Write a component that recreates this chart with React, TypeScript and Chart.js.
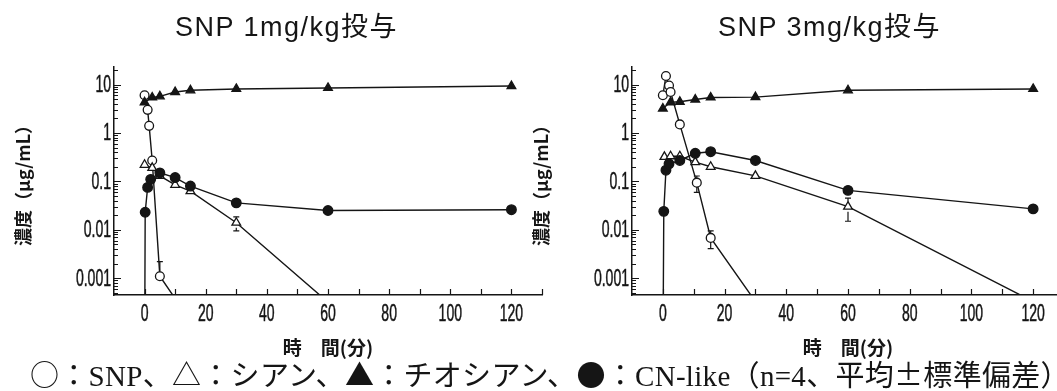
import React, { useEffect, useRef } from "react";
import { Chart, registerables } from "chart.js";

Chart.register(...registerables);

// ---------- data ----------
const X_LABELS = [0, 20, 40, 60, 80, 100, 120];
const Y_MAJOR = [0.001, 0.01, 0.1, 1, 10];
const Y_LABELS = ["0.001", "0.01", "0.1", "1", "10"];

// SNP 1 mg/kg
const L_SNP_T = [0, 1, 1.5, 2.5, 5, 10];
const L_SNP_V = [6.0, 3.0, 1.4, 0.27, 0.0011, 0.00038];
const L_SNP_E = [0, 0, 0, 0, 0.0011, 0];

const L_CYN_T = [0, 2.5, 5, 10, 15, 30, 60];
const L_CYN_V = [0.22, 0.19, 0.13, 0.085, 0.063, 0.014, 0.00032];
const L_CYN_E = [0, 0, 0, 0, 0, 0.0045, 0];

const L_THIO_T = [0, 2.5, 5, 10, 15, 30, 60, 120];
const L_THIO_V = [4.3, 5.4, 5.7, 7.0, 7.6, 8.1, 8.5, 9.3];

const L_CN_T = [0, 0.2, 1, 2, 5, 10, 15, 30, 60, 120];
const L_CN_V = [0.00001, 0.023, 0.075, 0.11, 0.15, 0.12, 0.08, 0.036, 0.025, 0.026];

// SNP 3 mg/kg
const R_SNP_T = [0, 1, 2, 2.5, 5.5, 11, 15.5, 30];
const R_SNP_V = [6.0, 15, 9.5, 7.0, 1.5, 0.094, 0.0068, 0.00033];
const R_SNP_E = [0, 0, 0, 0, 0, 0.035, 0.0027, 0];

const R_CYN_T = [0.5, 2.5, 5.5, 10.5, 15.5, 30, 60, 120];
const R_CYN_V = [0.32, 0.33, 0.33, 0.25, 0.2, 0.13, 0.03, 0.00033];
const R_CYN_E = [0, 0, 0, 0, 0, 0, 0.015, 0];

const R_THIO_T = [0, 2.5, 5.5, 10.5, 15.5, 30, 60, 120];
const R_THIO_V = [3.2, 4.3, 4.4, 4.9, 5.4, 5.5, 7.6, 8.1];

const R_CN_T = [0, 0.3, 1, 2, 5.5, 10.5, 15.5, 30, 60, 120];
const R_CN_V = [0.00001, 0.024, 0.17, 0.23, 0.27, 0.38, 0.41, 0.27, 0.065, 0.027];

const TITLE_L = "SNP 1mg/kg投与";
const TITLE_R = "SNP 3mg/kg投与";
const X_TITLE = "時　間(分)";
const Y_TITLE = "濃度（μg/mL）";
const CAPTION = "○：SNP、△：シアン、▲：チオシアン、●：CN-like（n=4、平均±標準偏差）";

// ---------- helpers ----------
const Y_MIN = 0.00045;
const Y_MAX = 23;
const INK = "#151515";
const LABEL_FONT = '23px "Liberation Sans", Arial, sans-serif';
const LABEL_SX = 0.61;

type Series = { t: number[]; v: number[]; e?: number[]; kind: "oc" | "fc" | "ot" | "ft" };

function toPts(t: number[], v: number[]) {
  return t.map((x, i) => ({ x, y: v[i] }));
}

function makeDataset(s: Series) {
  const circle = s.kind === "oc" || s.kind === "fc";
  const filled = s.kind === "fc" || s.kind === "ft";
  const r = s.kind === "fc" ? 4.8 : circle ? 4.4 : 5;
  return {
    data: toPts(s.t, s.v),
    errors: s.e,
    markerR: r,
    borderColor: INK,
    borderWidth: 1.4,
    backgroundColor: filled ? INK : "#ffffff",
    pointBackgroundColor: filled ? INK : "#ffffff",
    pointBorderColor: INK,
    pointBorderWidth: 1.3,
    pointStyle: circle ? "circle" : "triangle",
    pointRadius: (ctx: any) => (ctx.raw && ctx.raw.y < Y_MIN ? 0 : r),
    pointHoverRadius: r,
    tension: 0,
    fill: false,
  };
}

const tickMarks = {
  id: "tickMarks",
  afterDraw(chart: any) {
    const { ctx, chartArea, scales } = chart;
    const y = scales.y;
    const x = scales.x;
    ctx.save();
    ctx.strokeStyle = INK;
    ctx.lineWidth = 1.2;
    ctx.beginPath();
    y.ticks.forEach((tk: any) => {
      const py = Math.round(y.getPixelForValue(tk.value)) + 0.5;
      const len = tk.major ? 7 : 4;
      ctx.moveTo(chartArea.left, py);
      ctx.lineTo(chartArea.left + len, py);
    });
    x.ticks.forEach((tk: any) => {
      if (tk.value < 0) return;
      const px = Math.round(x.getPixelForValue(tk.value)) + 0.5;
      ctx.moveTo(px, chartArea.bottom);
      ctx.lineTo(px, chartArea.bottom - 6);
    });
    ctx.stroke();

    // condensed tick labels
    ctx.fillStyle = INK;
    ctx.strokeStyle = INK;
    ctx.lineWidth = 0.5;
    ctx.font = LABEL_FONT;
    ctx.textAlign = "right";
    ctx.textBaseline = "middle";
    Y_MAJOR.forEach((v, i) => {
      const py = y.getPixelForValue(v);
      ctx.save();
      ctx.translate(chartArea.left - 3, py + 1);
      ctx.scale(LABEL_SX, 1);
      ctx.fillText(Y_LABELS[i], 0, 0);
      ctx.strokeText(Y_LABELS[i], 0, 0);
      ctx.restore();
    });
    ctx.textAlign = "center";
    ctx.textBaseline = "alphabetic";
    X_LABELS.forEach((v) => {
      const px = x.getPixelForValue(v);
      ctx.save();
      ctx.translate(px, chartArea.bottom + 26);
      ctx.scale(LABEL_SX, 1);
      ctx.fillText(String(v), 0, 0);
      ctx.strokeText(String(v), 0, 0);
      ctx.restore();
    });
    ctx.restore();
  },
};

const errorBars = {
  id: "errorBars",
  afterDatasetsDraw(chart: any) {
    const { ctx, chartArea, scales } = chart;
    const x = scales.x;
    const y = scales.y;
    ctx.save();
    ctx.beginPath();
    ctx.rect(chartArea.left, chartArea.top, chartArea.right - chartArea.left, chartArea.bottom - chartArea.top);
    ctx.clip();
    ctx.strokeStyle = INK;
    ctx.lineWidth = 1.2;
    chart.data.datasets.forEach((ds: any) => {
      const errs: number[] | undefined = ds.errors;
      if (!errs) return;
      const r = ds.markerR || 4;
      ds.data.forEach((p: any, i: number) => {
        const e = errs[i];
        if (!e) return;
        const px = x.getPixelForValue(p.x);
        const py = y.getPixelForValue(p.y);
        const top = y.getPixelForValue(p.y + e);
        ctx.beginPath();
        if (top < py - r) {
          ctx.moveTo(px, py - r);
          ctx.lineTo(px, top);
          ctx.moveTo(px - 3, top);
          ctx.lineTo(px + 3, top);
        }
        const lowV = p.y - e;
        if (lowV > 0) {
          const bot = y.getPixelForValue(lowV);
          if (bot > py + r) {
            ctx.moveTo(px, py + r);
            ctx.lineTo(px, bot);
            ctx.moveTo(px - 3, bot);
            ctx.lineTo(px + 3, bot);
          }
        }
        ctx.stroke();
      });
    });
    ctx.restore();
  },
};

function PanelChart({ series, width, height }: { series: Series[]; width: number; height: number }) {
  const ref = useRef<HTMLCanvasElement | null>(null);
  useEffect(() => {
    if (!ref.current) return;
    const chart = new Chart(ref.current, {
      type: "line",
      data: { datasets: series.map(makeDataset) as any },
      plugins: [tickMarks, errorBars],
      options: {
        animation: false,
        responsive: false,
        maintainAspectRatio: false,
        layout: { padding: { left: 4, top: 67, right: 30, bottom: 0 } },
        plugins: { legend: { display: false }, tooltip: { enabled: false }, title: { display: false } },
        scales: {
          x: {
            type: "linear",
            min: -10,
            max: 130,
            grid: { display: true, color: "rgba(0,0,0,0)", drawTicks: false },
            border: { display: true, color: INK, width: 1.5 },
            ticks: { stepSize: 10, display: false, autoSkip: false },
            title: {
              display: true,
              text: X_TITLE,
              color: INK,
              font: { family: '"Noto Sans CJK JP", sans-serif', size: 19, weight: "bold" },
              padding: { top: 4, bottom: 3 },
            },
            afterFit: (s: any) => {
              s.height = height - 295;
            },
          },
          y: {
            type: "logarithmic",
            min: Y_MIN,
            max: Y_MAX,
            grid: { display: true, color: "rgba(0,0,0,0)", drawTicks: false },
            border: { display: true, color: INK, width: 1.5 },
            afterBuildTicks: (s: any) => {
              const out: any[] = [];
              for (let e = -4; e <= 1; e++) {
                for (let m = 1; m <= 9; m++) {
                  const v = Number((m * Math.pow(10, e)).toPrecision(4));
                  if (v >= Y_MIN && v <= Y_MAX) out.push({ value: v, major: m === 1 });
                }
              }
              s.ticks = out;
            },
            ticks: { display: false, autoSkip: false },
            title: {
              display: true,
              text: Y_TITLE,
              color: INK,
              font: { family: '"Noto Sans CJK JP", sans-serif', size: 18, weight: "bold" },
              padding: { top: 8, bottom: 4 },
            },
            afterFit: (s: any) => {
              s.width = 110;
            },
          },
        },
      } as any,
    });
    return () => chart.destroy();
  }, []);
  return <canvas ref={ref} width={width} height={height} style={{ width, height, display: "block" }} />;
}

const LEFT: Series[] = [
  { t: L_THIO_T, v: L_THIO_V, kind: "ft" },
  { t: L_CN_T, v: L_CN_V, kind: "fc" },
  { t: L_CYN_T, v: L_CYN_V, e: L_CYN_E, kind: "ot" },
  { t: L_SNP_T, v: L_SNP_V, e: L_SNP_E, kind: "oc" },
];

const RIGHT: Series[] = [
  { t: R_THIO_T, v: R_THIO_V, kind: "ft" },
  { t: R_CN_T, v: R_CN_V, kind: "fc" },
  { t: R_CYN_T, v: R_CYN_V, e: R_CYN_E, kind: "ot" },
  { t: R_SNP_T, v: R_SNP_V, e: R_SNP_E, kind: "oc" },
];

const titleStyle: React.CSSProperties = {
  position: "absolute",
  top: 12,
  font: '27px "Liberation Sans", Arial, "Noto Sans CJK JP", sans-serif',
  letterSpacing: "1.5px",
  color: INK,
  whiteSpace: "nowrap",
  lineHeight: "30px",
};

function Caption({ text }: { text: string }) {
  const parts = text.split(/([A-Za-z0-9=\-]+)/);
  return (
    <div
      style={{
        position: "absolute",
        left: 30,
        top: 356,
        font: '29px "Noto Sans CJK JP", sans-serif',
        letterSpacing: "0.3px",
        color: INK,
        whiteSpace: "nowrap",
        lineHeight: "34px",
      }}
    >
      {parts.map((p, i) =>
        i % 2 === 1 ? (
          <span key={i} style={{ fontFamily: '"Liberation Serif", "DejaVu Serif", serif' }}>
            {p}
          </span>
        ) : (
          <span key={i}>{p}</span>
        )
      )}
    </div>
  );
}

export default function App() {
  return (
    <div
      style={{
        position: "absolute",
        left: 0,
        top: 0,
        width: 1057,
        height: 391,
        overflow: "hidden",
        background: "#ffffff",
      }}
    >
      <div style={{ position: "absolute", left: 0, top: 0 }}>
        <PanelChart series={LEFT} width={572} height={362} />
      </div>
      <div style={{ position: "absolute", left: 518, top: 0 }}>
        <PanelChart series={RIGHT} width={576} height={362} />
      </div>
      <div style={{ ...titleStyle, left: 175 }}>{TITLE_L}</div>
      <div style={{ ...titleStyle, left: 718 }}>{TITLE_R}</div>
      <Caption text={CAPTION} />
    </div>
  );
}
